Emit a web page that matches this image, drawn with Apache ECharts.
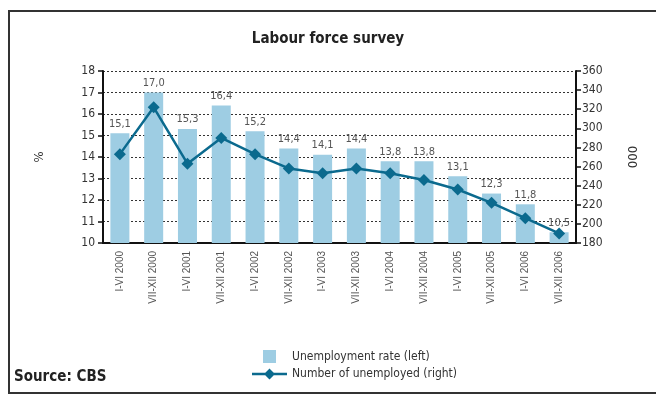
<!doctype html>
<html>
<head>
  <meta charset="utf-8">
  <script src="https://cdn.jsdelivr.net/npm/echarts@6/dist/echarts.min.js"></script>
  <style>
    html, body { margin: 0; width: 100%; height: 100%; background: #fff; }
    #main { width: 656px; height: 394px; }
  </style>
</head>
<body>
  <div id="main"></div>
  <script>
    // periods (half-years)
    var periods = ['I-VI 2000', 'VII-XII 2000', 'I-VI 2001', 'VII-XII 2001', 'I-VI 2002', 'VII-XII 2002',
      'I-VI 2003', 'VII-XII 2003', 'I-VI 2004', 'VII-XII 2004', 'I-VI 2005', 'VII-XII 2005',
      'I-VI 2006', 'VII-XII 2006'];
    // unemployment rate, % (left axis)
    var rate = [15.1, 17.0, 15.3, 16.4, 15.2, 14.4, 14.1, 14.4, 13.8, 13.8, 13.1, 12.3, 11.8, 10.5];
    // number of unemployed, 000 (right axis)
    var unemployed = [273, 322, 263, 290, 273, 258, 253, 258, 253, 246, 236, 222, 206, 190];

    var font = '"DejaVu Sans Condensed", "DejaVu Sans", sans-serif';
    var chart = echarts.init(document.getElementById('main'));

    // legend icon: line with a diamond in the middle
    var lineIcon = 'path://M0,5.3h35v2.4h-35z M17.5,1L23,6.5L17.5,12L12,6.5z';

    chart.setOption({
      animation: false,
      textStyle: { fontFamily: font },
      title: {
        text: 'Labour force survey',
        left: 'center',
        top: 27,
        textStyle: { fontSize: 15, fontWeight: 'bold', color: '#222', fontFamily: font }
      },
      graphic: [{
        type: 'rect',
        shape: { x: 9, y: 11, width: 660, height: 382 },
        style: { fill: null, stroke: '#333', lineWidth: 2 }
      }, {
        type: 'text',
        left: 14,
        top: 370,
        style: { text: 'Source: CBS', font: 'bold 15px ' + font, fill: '#222' }
      }],
      legend: {
        orient: 'vertical',
        left: 247,
        top: 345,
        itemWidth: 35,
        itemHeight: 13,
        itemGap: 5,
        textStyle: { fontSize: 12, color: '#333' },
        data: [
          { name: 'Unemployment rate (left)', icon: 'path://M0,0h10v10h-10z' },
          { name: 'Number of unemployed (right)', icon: lineIcon }
        ]
      },
      grid: { left: 103, right: 80, top: 71, bottom: 151 },
      xAxis: {
        type: 'category',
        data: periods,
        axisLine: { lineStyle: { color: '#111', width: 2 } },
        axisTick: { length: 5, lineStyle: { color: '#111', width: 1.5 } },
        axisLabel: { rotate: 90, fontSize: 10, color: '#555', margin: 8, interval: 0,
          fontFamily: '"Liberation Sans", Arial, sans-serif' }
      },
      yAxis: [{
        type: 'value',
        min: 10, max: 18, interval: 1,
        name: '%',
        nameLocation: 'middle',
        nameGap: 57,
        nameRotate: 90,
        nameTextStyle: { fontSize: 13, color: '#333' },
        axisLine: { show: true, lineStyle: { color: '#111', width: 2 } },
        axisTick: { show: true, length: 5, lineStyle: { color: '#111', width: 1.5 } },
        axisLabel: { fontSize: 12, color: '#333', margin: 8 },
        splitLine: { lineStyle: { color: '#333', type: [2, 2], width: 1 } }
      }, {
        type: 'value',
        min: 180, max: 360, interval: 20,
        name: '000',
        nameLocation: 'middle',
        nameGap: 49,
        nameRotate: -90,
        nameTextStyle: { fontSize: 13, color: '#333' },
        axisLine: { show: true, lineStyle: { color: '#111', width: 2 } },
        axisTick: { show: true, length: 5, lineStyle: { color: '#111', width: 1.5 } },
        axisLabel: { fontSize: 12, color: '#333', margin: 6 },
        splitLine: { show: false }
      }],
      series: [{
        name: 'Unemployment rate (left)',
        type: 'bar',
        data: rate,
        barWidth: 19,
        itemStyle: { color: '#9ecde3' },
        label: {
          show: true,
          position: 'top',
          fontSize: 11,
          color: '#555',
          distance: 4,
          formatter: function (p) { return p.value.toFixed(1).replace('.', ','); }
        }
      }, {
        name: 'Number of unemployed (right)',
        type: 'line',
        yAxisIndex: 1,
        data: unemployed,
        symbol: 'diamond',
        symbolSize: 12,
        lineStyle: { color: '#0b6a8e', width: 2.5 },
        itemStyle: { color: '#0b6a8e' }
      }]
    });
  </script>
</body>
</html>
